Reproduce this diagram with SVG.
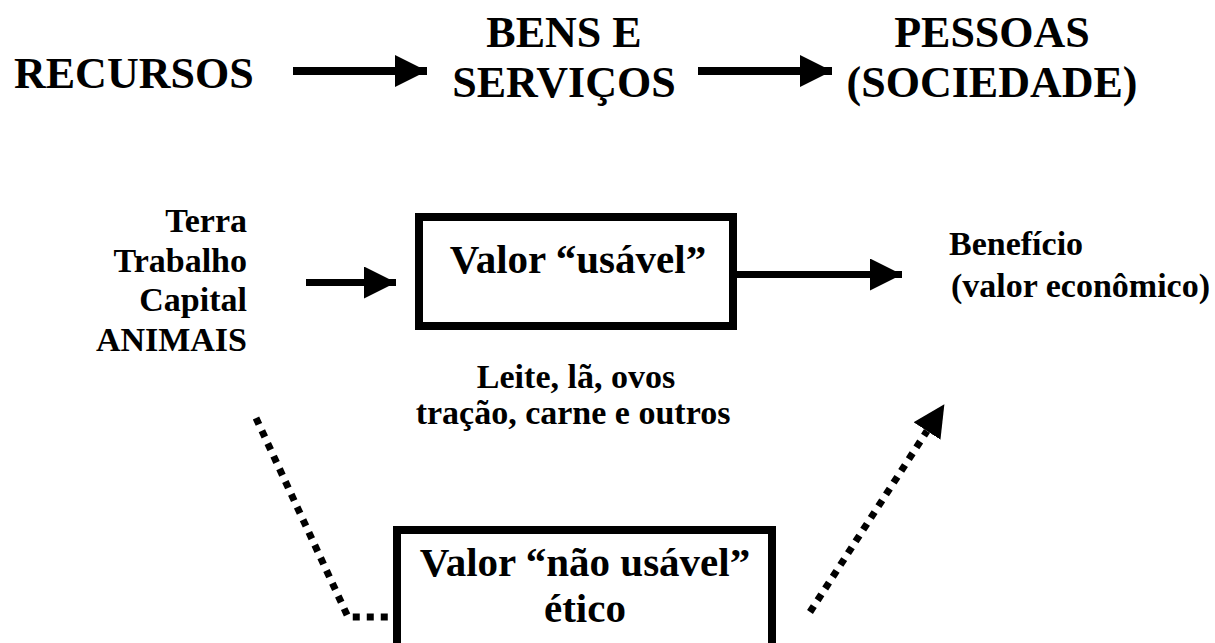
<svg xmlns="http://www.w3.org/2000/svg" width="1215" height="643" viewBox="0 0 1215 643">
<style>
text{font-family:"Liberation Serif","Times New Roman",serif;font-weight:bold;fill:#000}
.big{font-size:44px}
.mid{font-size:41px}
.sm{font-size:34px}
.box{fill:none;stroke:#000;stroke-width:8}
.arrow{stroke:#000;fill:none}
.dot{stroke:#000;fill:none;stroke-width:7;stroke-dasharray:7 7}
</style>
<defs>
<marker id="head" markerUnits="userSpaceOnUse" markerWidth="34" markerHeight="34" refX="32" refY="16" orient="auto" viewBox="0 0 34 34">
<path d="M0,0 L32,16 L0,32 Z" fill="#000"/>
</marker>
<marker id="headBase" markerUnits="userSpaceOnUse" markerWidth="34" markerHeight="34" refX="0" refY="16" orient="auto" viewBox="0 0 34 34">
<path d="M0,0 L32,16 L0,32 Z" fill="#000"/>
</marker>
</defs>
<rect width="1215" height="643" fill="#fff"/>
<g id="recursos"><text class="big" x="14" y="88">RECURSOS</text></g>
<g id="bens-servicos"><text class="big" x="564" y="47" text-anchor="middle">BENS E</text><text class="big" x="564" y="97" text-anchor="middle">SERVIÇOS</text></g>
<g id="pessoas"><text class="big" x="992" y="47" text-anchor="middle">PESSOAS</text><text class="big" x="992" y="97" text-anchor="middle">(SOCIEDADE)</text></g>
<g id="fatores" text-anchor="end"><text class="sm" x="247" y="232">Terra</text><text class="sm" x="247" y="272">Trabalho</text><text class="sm" x="247" y="311">Capital</text><text class="sm" x="247" y="351">ANIMAIS</text></g>
<g id="valor-usavel"><rect class="box" x="419" y="217" width="314" height="109"/><text class="mid" x="578" y="273" text-anchor="middle">Valor “usável”</text></g>
<g id="produtos"><text class="sm" x="576" y="388" text-anchor="middle">Leite, lã, ovos</text><text class="sm" x="573" y="424" text-anchor="middle">tração, carne e outros</text></g>
<g id="beneficio"><text class="sm" x="949" y="255">Benefício</text><text class="sm" x="951" y="297">(valor econômico)</text></g>
<g id="valor-nao-usavel"><rect class="box" x="397" y="530" width="375" height="130"/><text class="mid" x="585" y="576" text-anchor="middle">Valor “não usável”</text><text class="mid" x="585" y="622" text-anchor="middle">ético</text></g>
<g id="connectors">
<line class="arrow" x1="293" y1="71" x2="427" y2="71" stroke-width="8" marker-end="url(#head)"/>
<line class="arrow" x1="698" y1="71" x2="832" y2="71" stroke-width="8" marker-end="url(#head)"/>
<line class="arrow" x1="306" y1="282.5" x2="396" y2="282.5" stroke-width="7" marker-end="url(#head)"/>
<line class="arrow" x1="737" y1="274.5" x2="902" y2="274.5" stroke-width="7" marker-end="url(#head)"/>
<polyline class="dot" points="256,418 348,617 393,617"/>
<line class="dot" x1="810" y1="612" x2="927" y2="431" marker-end="url(#headBase)"/>
</g>
</svg>
